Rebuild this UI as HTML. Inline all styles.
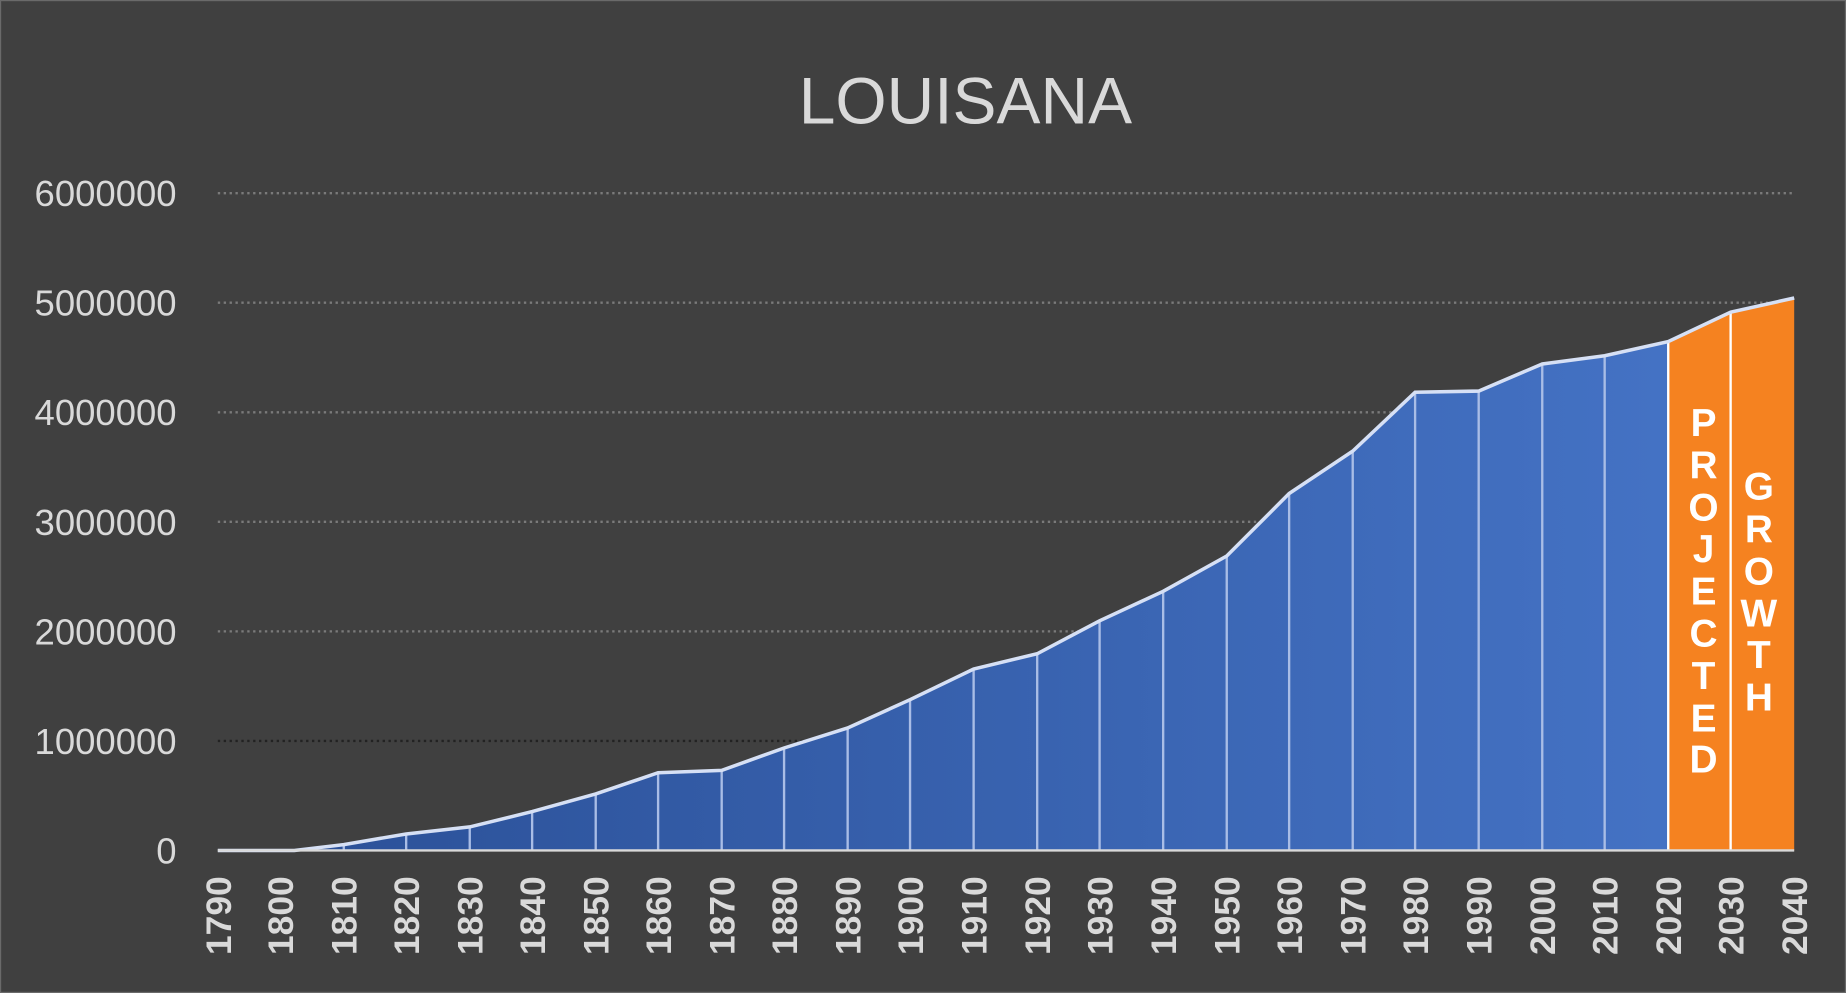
<!DOCTYPE html>
<html><head><meta charset="utf-8"><style>
html,body{margin:0;padding:0;background:#404040;}
svg{display:block;}
</style></head><body>
<svg width="1846" height="993" viewBox="0 0 1568 843" preserveAspectRatio="none" xmlns="http://www.w3.org/2000/svg" font-family="Liberation Sans, sans-serif">
<defs>
<linearGradient id="g" x1="0" x2="1" y1="0" y2="0">
<stop offset="0" stop-color="#2a4f96"/><stop offset="1" stop-color="#4472c4"/>
</linearGradient>
</defs>
<rect x="0" y="0" width="1568" height="843" fill="#404040" stroke="#6a6a6a" stroke-width="2"/>
<text x="820" y="105" font-size="56" fill="#d9d9d9" text-anchor="middle">LOUISANA</text>
<g stroke="#7a7a7a" stroke-width="2" stroke-dasharray="2,3">
<line x1="185" x2="1524" y1="164" y2="164"/>
<line x1="185" x2="1524" y1="257" y2="257"/>
<line x1="185" x2="1524" y1="350" y2="350"/>
<line x1="185" x2="1524" y1="443" y2="443"/>
<line x1="185" x2="1524" y1="536" y2="536"/>
<line x1="185" x2="1524" y1="629" y2="629" stroke="#222"/>
</g>
<g font-size="31" fill="#d9d9d9" text-anchor="end">
<text x="150" y="175">6000000</text>
<text x="150" y="268">5000000</text>
<text x="150" y="361">4000000</text>
<text x="150" y="454">3000000</text>
<text x="150" y="547">2000000</text>
<text x="150" y="640">1000000</text>
<text x="150" y="733">0</text>
</g>
<polygon fill="url(#g)" points="185,722 250,722 292,717 345,708 399,702 452,689 506,674 559,656 613,654 666,635 720,618 773,594 827,568 881,555 934,527 988,502 1042,472 1095,419 1149,383 1202,333 1256,332 1310,309 1363,302 1417,290 1417,722"/>
<polygon fill="#f58220" points="1417,722 1417,290 1470,265 1524,253 1524,722"/>
<g stroke="#a9bde6" stroke-width="2">
<line x1="292" x2="292" y1="717" y2="722"/><line x1="345" x2="345" y1="708" y2="722"/>
<line x1="399" x2="399" y1="702" y2="722"/><line x1="452" x2="452" y1="689" y2="722"/>
<line x1="506" x2="506" y1="674" y2="722"/><line x1="559" x2="559" y1="656" y2="722"/>
<line x1="613" x2="613" y1="654" y2="722"/><line x1="666" x2="666" y1="635" y2="722"/>
<line x1="720" x2="720" y1="618" y2="722"/><line x1="773" x2="773" y1="594" y2="722"/>
<line x1="827" x2="827" y1="568" y2="722"/><line x1="881" x2="881" y1="555" y2="722"/>
<line x1="934" x2="934" y1="527" y2="722"/><line x1="988" x2="988" y1="502" y2="722"/>
<line x1="1042" x2="1042" y1="472" y2="722"/><line x1="1095" x2="1095" y1="419" y2="722"/>
<line x1="1149" x2="1149" y1="383" y2="722"/><line x1="1202" x2="1202" y1="333" y2="722"/>
<line x1="1256" x2="1256" y1="332" y2="722"/><line x1="1310" x2="1310" y1="309" y2="722"/>
<line x1="1363" x2="1363" y1="302" y2="722"/>
</g>
<g stroke="#ffffff" stroke-width="2"><line x1="1470" x2="1470" y1="265" y2="722"/><line x1="1417" x2="1417" y1="290" y2="722"/></g>
<polyline fill="none" stroke="#d6e0f5" stroke-width="3" points="185,722 250,722 292,717 345,708 399,702 452,689 506,674 559,656 613,654 666,635 720,618 773,594 827,568 881,555 934,527 988,502 1042,472 1095,419 1149,383 1202,333 1256,332 1310,309 1363,302 1417,290 1470,265 1524,253"/>
<line x1="185" x2="1524" y1="722" y2="722" stroke="#d9d9d9" stroke-width="2"/>
<g font-size="33" font-weight="bold" fill="#ffffff" text-anchor="middle">
<text x="1447" y="370">P</text><text x="1447" y="406">R</text><text x="1447" y="442">O</text><text x="1447" y="477">J</text><text x="1447" y="513">E</text><text x="1447" y="549">C</text><text x="1447" y="585">T</text><text x="1447" y="621">E</text><text x="1447" y="656">D</text>
<text x="1494" y="424">G</text><text x="1494" y="460">R</text><text x="1494" y="496">O</text><text x="1494" y="532">W</text><text x="1494" y="567">T</text><text x="1494" y="603">H</text>
</g>
<g font-size="30" font-weight="bold" fill="#d9d9d9" text-anchor="end">
<text transform="translate(196,744) rotate(-90)">1790</text>
<text transform="translate(249,744) rotate(-90)">1800</text>
<text transform="translate(303,744) rotate(-90)">1810</text>
<text transform="translate(356,744) rotate(-90)">1820</text>
<text transform="translate(410,744) rotate(-90)">1830</text>
<text transform="translate(463,744) rotate(-90)">1840</text>
<text transform="translate(517,744) rotate(-90)">1850</text>
<text transform="translate(570,744) rotate(-90)">1860</text>
<text transform="translate(624,744) rotate(-90)">1870</text>
<text transform="translate(677,744) rotate(-90)">1880</text>
<text transform="translate(731,744) rotate(-90)">1890</text>
<text transform="translate(784,744) rotate(-90)">1900</text>
<text transform="translate(838,744) rotate(-90)">1910</text>
<text transform="translate(892,744) rotate(-90)">1920</text>
<text transform="translate(945,744) rotate(-90)">1930</text>
<text transform="translate(999,744) rotate(-90)">1940</text>
<text transform="translate(1053,744) rotate(-90)">1950</text>
<text transform="translate(1106,744) rotate(-90)">1960</text>
<text transform="translate(1160,744) rotate(-90)">1970</text>
<text transform="translate(1213,744) rotate(-90)">1980</text>
<text transform="translate(1267,744) rotate(-90)">1990</text>
<text transform="translate(1321,744) rotate(-90)">2000</text>
<text transform="translate(1374,744) rotate(-90)">2010</text>
<text transform="translate(1428,744) rotate(-90)">2020</text>
<text transform="translate(1481,744) rotate(-90)">2030</text>
<text transform="translate(1535,744) rotate(-90)">2040</text>
</g>
</svg>
</body></html>
